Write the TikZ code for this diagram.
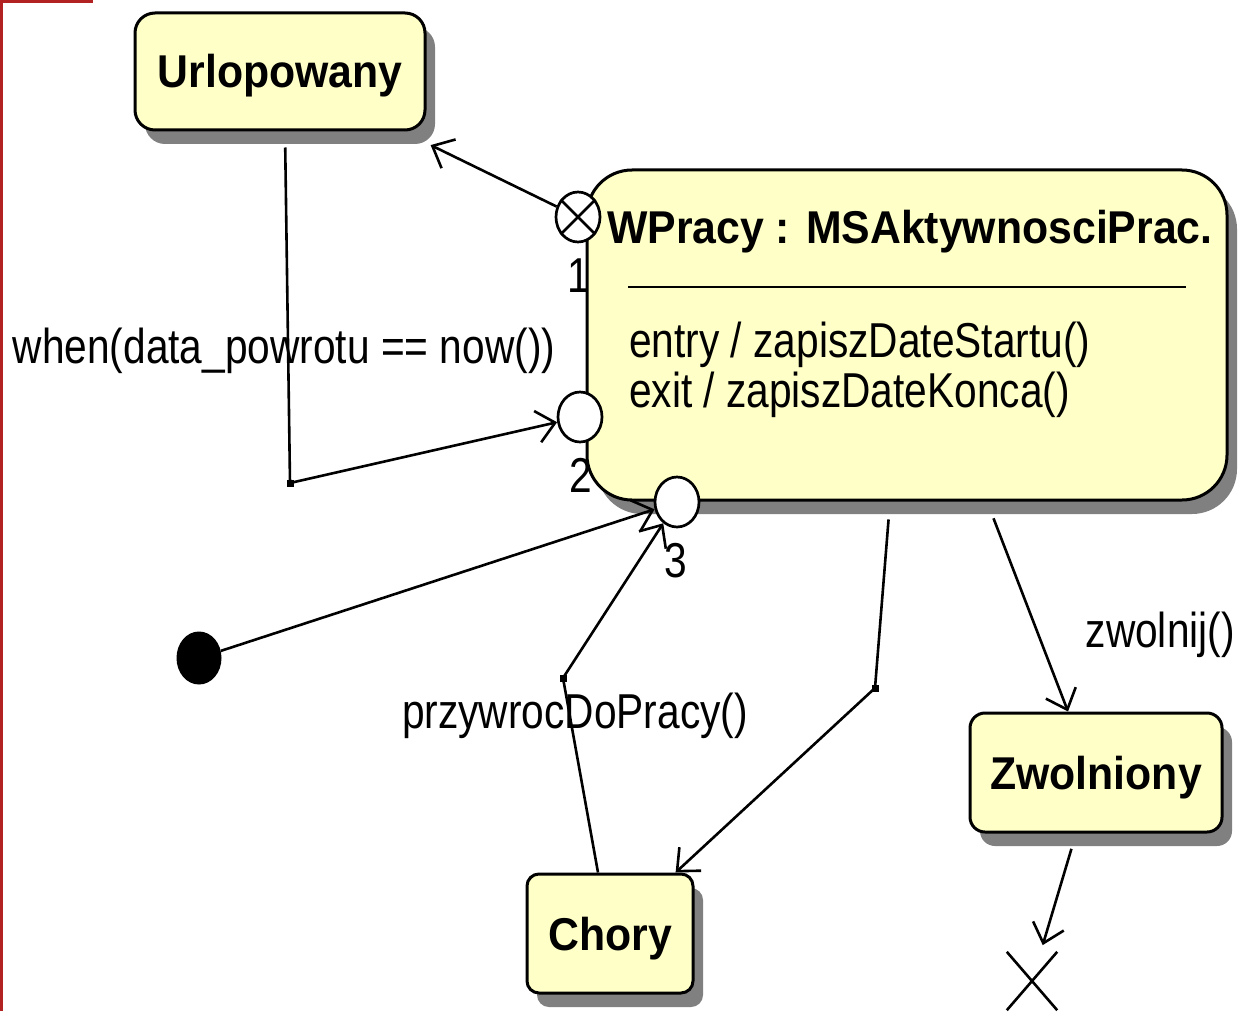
\documentclass[tikz,border=0pt]{standalone}
\usepackage{fontspec}
\setmainfont{Liberation Sans}
\newfontfamily\lblfont[FakeStretch=0.83]{Liberation Sans}
\newfontfamily\stfont[FakeStretch=0.93]{Liberation Sans}
\usetikzlibrary{arrows.meta,shapes.geometric,shadows}

\definecolor{stfill}{RGB}{255,255,200}
\definecolor{shgray}{RGB}{128,128,128}
\definecolor{framered}{RGB}{178,34,34}

\tikzset{
  stbox/.style={draw, line width=3pt, fill=stfill, rounded corners=#1,
    drop shadow={shadow xshift=10pt, shadow yshift=-14pt, fill=shgray, opacity=1},
    font=\stfont\bfseries\fontsize{46}{50}\selectfont,
    text height=33pt, text depth=0pt, inner sep=0pt},
  stbox/.default=20pt,
  cpoint/.style={ellipse, draw, line width=2.7pt, fill=white,
    minimum width=44pt, minimum height=50pt, inner sep=0pt},
  lbl/.style={font=\lblfont\fontsize{49}{55}\selectfont, inner sep=0pt},
  jdot/.style={fill=black, minimum size=7pt, inner sep=0pt},
  conn/.style={line width=2.6pt,
    -{Straight Barb[length=18pt, width=32pt, line width=2.6pt]}},
  thinline/.style={line width=2.6pt}
}

\begin{document}
\begin{tikzpicture}[x=1pt, y=-1pt]
\useasboundingbox (0,0) rectangle (1238,1011);

% frame corner
\fill[framered] (0,0) rectangle (3,1011);
\fill[framered] (0,0) rectangle (93,3);

% states
\node[stbox, minimum width=290pt, minimum height=117pt] (urlop) at (280,71.5) {Urlopowany};
\node[stbox=45pt, minimum width=640pt, minimum height=330pt] (wpracy) at (907,335) {};
\node[stbox=12pt, minimum width=166pt, minimum height=119pt] (chory) at (610,933.5) {Chory};
\node[stbox=15pt, minimum width=252pt, minimum height=119pt] (zwol) at (1096,772.5) {Zwolniony};

% composite state compartments
\node[anchor=base west, inner sep=0pt, font=\stfont\bfseries\fontsize{46}{50}\selectfont]
  (wtitle) at (607,243) {WPracy : MSAktywnosciPrac.};
\draw[line width=2.7pt] (628,287) -- (1186,287);
\node[lbl, anchor=base west] (wentry) at (629,357) {entry / zapiszDateStartu()};
\node[lbl, anchor=base west] (wexit) at (629,407) {exit / zapiszDateKonca()};

% exit and entry points
\node[cpoint] (ep1) at (578,217) {};
\draw[thinline] (ep1.135) -- (ep1.-45) (ep1.45) -- (ep1.-135);
\node[cpoint] (ep2) at (580,417) {};
\node[cpoint] (ep3) at (677,502) {};
\node[lbl, anchor=base] (n1) at (579,292) {1};
\node[lbl, anchor=base] (n2) at (581,492) {2};
\node[lbl, anchor=base] (n3) at (676,577) {3};

% initial and terminate pseudostates
\node[ellipse, fill=black, minimum width=45pt, minimum height=53pt, inner sep=0pt] (init) at (199,658) {};
\node[minimum width=50pt, minimum height=58pt, inner sep=0pt] (fin) at (1032,981) {};
\draw[thinline] (fin.north west) -- (fin.south east) (fin.north east) -- (fin.south west);

% junction points
\node[jdot] (j1) at (290,483) {};
\node[jdot] (j2) at (563,678) {};
\node[jdot] (j3) at (875,688) {};

% transitions
\draw[conn, shorten >=31pt] (ep1) -- (urlop);
\draw[conn, shorten <=16pt] ([xshift=5pt]urlop.south) -- (j1.center) -- (ep2);
\draw[conn] (init) -- (ep3);
\draw[conn] ([xshift=-12pt]chory.north) -- (j2.center) -- (ep3);
\draw[conn, shorten <=18pt] ([xshift=-17pt]wpracy.south) -- (j3.center) -- (chory);
\draw[conn, shorten <=18pt] ([xshift=80pt]wpracy.south) -- ([xshift=-28pt]zwol.north);
\draw[conn, shorten <=16pt, shorten >=7pt] ([xshift=-20pt]zwol.south) -- (fin);

% transition labels
\node[lbl, anchor=base] (lwhen) at (284,363) {when(data\_powrotu == now())};
\node[lbl, anchor=base] (lprzyw) at (575,728) {przywrocDoPracy()};
\node[lbl, anchor=base east] (lzwol) at (1235,647) {zwolnij()};
\end{tikzpicture}
\end{document}
